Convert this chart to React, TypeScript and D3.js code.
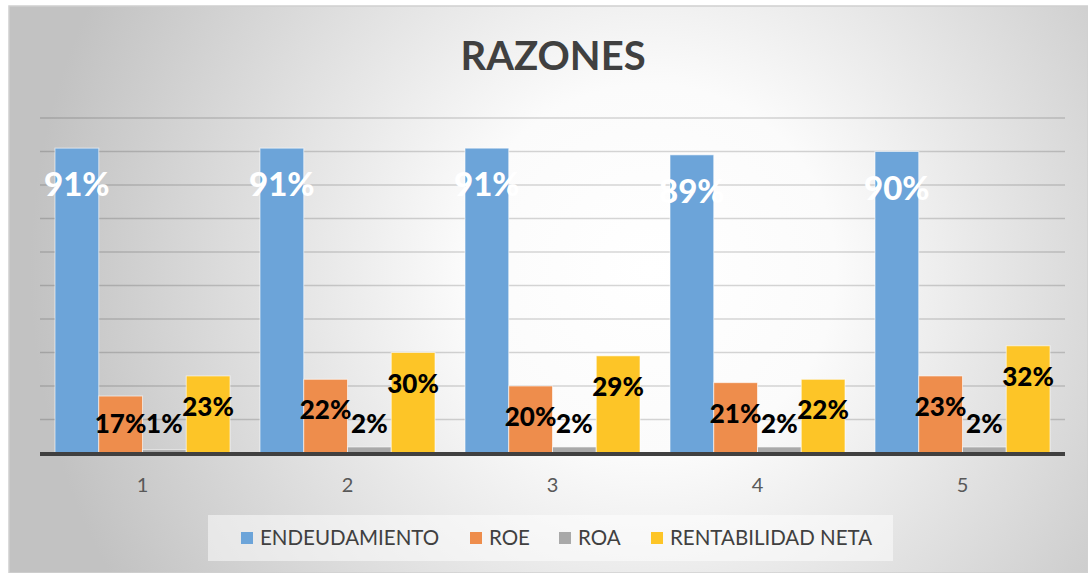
import React, { useEffect, useRef } from 'react';
import * as d3 from 'd3';

const categories = ['1', '2', '3', '4', '5'];
const seriesNames = ['ENDEUDAMIENTO', 'ROE', 'ROA', 'RENTABILIDAD NETA'];
const endeudamiento = [0.91, 0.91, 0.91, 0.89, 0.9];
const roe = [0.17, 0.22, 0.2, 0.21, 0.23];
const roa = [0.01, 0.018, 0.018, 0.018, 0.018];
const rentabilidadNeta = [0.23, 0.3, 0.29, 0.22, 0.32];
const seriesColors = ['#6ca4d9', '#ee8d4c', '#a9a9a9', '#fdc527'];
const labelColors = ['#ffffff', '#000000', '#000000', '#000000'];
const title = 'RAZONES';

export default function App() {
    const ref = useRef<SVGSVGElement>(null);

    useEffect(() => {
        const svgWidth = 1088, svgHeight = 573;
        const svg = d3.select(ref.current);
        svg.selectAll('*').remove();

        const values = [endeudamiento, roe, roa, rentabilidadNeta];
        const font = 'Lato, "Open Sans", sans-serif';

        // background with radial gradient
        const defs = svg.append('defs');
        const grad = defs.append('radialGradient')
            .attr('id', 'bg')
            .attr('gradientUnits', 'userSpaceOnUse')
            .attr('cx', 650).attr('cy', 270).attr('r', 620);
        grad.append('stop').attr('offset', '0%').attr('stop-color', '#ffffff');
        grad.append('stop').attr('offset', '30%').attr('stop-color', '#fbfbfb');
        grad.append('stop').attr('offset', '100%').attr('stop-color', '#c2c2c2');

        svg.append('rect')
            .attr('x', 9).attr('y', 6)
            .attr('width', svgWidth - 9).attr('height', svgHeight - 6)
            .attr('fill', 'url(#bg)')
            .attr('stroke', '#d0d0d0')
            .attr('stroke-width', 1.5);

        // scales
        const left = 40, right = 1065, top = 118, bottom = 453;
        const x0 = d3.scaleBand()
            .domain(categories)
            .range([left, right])
            .paddingInner(30 / 205)
            .paddingOuter(15 / 205);
        const x1 = d3.scaleBand()
            .domain(seriesNames)
            .range([0, x0.bandwidth()]);
        const y = d3.scaleLinear().domain([0, 1]).range([bottom, top]);

        // gridlines
        svg.append('g')
            .selectAll('line')
            .data(d3.range(1, 11).map(d => d / 10))
            .enter().append('line')
            .attr('x1', left).attr('x2', right)
            .attr('y1', d => y(d)).attr('y2', d => y(d))
            .attr('stroke', '#000')
            .attr('stroke-opacity', 0.16)
            .attr('stroke-width', 1.5);

        // bars
        const groups = svg.append('g')
            .selectAll('g')
            .data(categories)
            .enter().append('g')
            .attr('transform', d => 'translate(' + x0(d) + ',0)');

        groups.selectAll('rect')
            .data((c, i) => seriesNames.map((s, j) => ({ s, j, v: values[j][i] })))
            .enter().append('rect')
            .attr('x', d => x1(d.s)!)
            .attr('y', d => y(d.v))
            .attr('width', x1.bandwidth())
            .attr('height', d => bottom - y(d.v))
            .attr('fill', d => seriesColors[d.j])
            .attr('stroke', '#ffffff')
            .attr('stroke-opacity', 0.6)
            .attr('stroke-width', 1);

        // baseline
        svg.append('line')
            .attr('x1', left).attr('x2', right)
            .attr('y1', bottom + 1).attr('y2', bottom + 1)
            .attr('stroke', '#404040')
            .attr('stroke-width', 4);

        // data labels
        groups.selectAll('text')
            .data((c, i) => seriesNames.map((s, j) => ({ s, j, v: values[j][i] })))
            .enter().append('text')
            .attr('x', d => x1(d.s)! + x1.bandwidth() / 2)
            .attr('y', d => d.j === 0 ? y(d.v) + 48 : Math.min(y(d.v) + 40, 433))
            .attr('text-anchor', 'middle')
            .attr('font-family', font)
            .attr('font-weight', 900)
            .attr('font-size', d => d.j === 0 ? 33 : 26)
            .attr('fill', d => labelColors[d.j])
            .text(d => Math.round(d.v * 100) + '%');

        // category axis labels
        svg.append('g')
            .selectAll('text')
            .data(categories)
            .enter().append('text')
            .attr('x', d => x0(d)! + x0.bandwidth() / 2)
            .attr('y', 492)
            .attr('text-anchor', 'middle')
            .attr('font-family', font)
            .attr('font-size', 20)
            .attr('fill', '#595959')
            .text(d => d);

        // title
        svg.append('text')
            .attr('x', 553)
            .attr('y', 70)
            .attr('text-anchor', 'middle')
            .attr('font-family', font)
            .attr('font-weight', 'bold')
            .attr('font-size', 40)
            .attr('fill', '#404040')
            .text(title);

        // legend
        svg.append('rect')
            .attr('x', 208).attr('y', 515)
            .attr('width', 685).attr('height', 46)
            .attr('fill', '#ffffff')
            .attr('fill-opacity', 0.5);

        const legendX = [241, 470, 559, 651];
        const legend = svg.append('g')
            .selectAll('g')
            .data(seriesNames)
            .enter().append('g')
            .attr('transform', (d, i) => 'translate(' + legendX[i] + ',532)');
        legend.append('rect')
            .attr('width', 12).attr('height', 12)
            .attr('fill', (d, i) => seriesColors[i]);
        legend.append('text')
            .attr('x', 19)
            .attr('y', 13)
            .attr('font-family', font)
            .attr('font-size', 20.5)
            .attr('fill', '#404040')
            .text(d => d);
    }, []);

    return (
        <svg ref={ref} width={1088} height={573}
            style={{ position: 'absolute', left: 0, top: 0, display: 'block' }} />
    );
}
